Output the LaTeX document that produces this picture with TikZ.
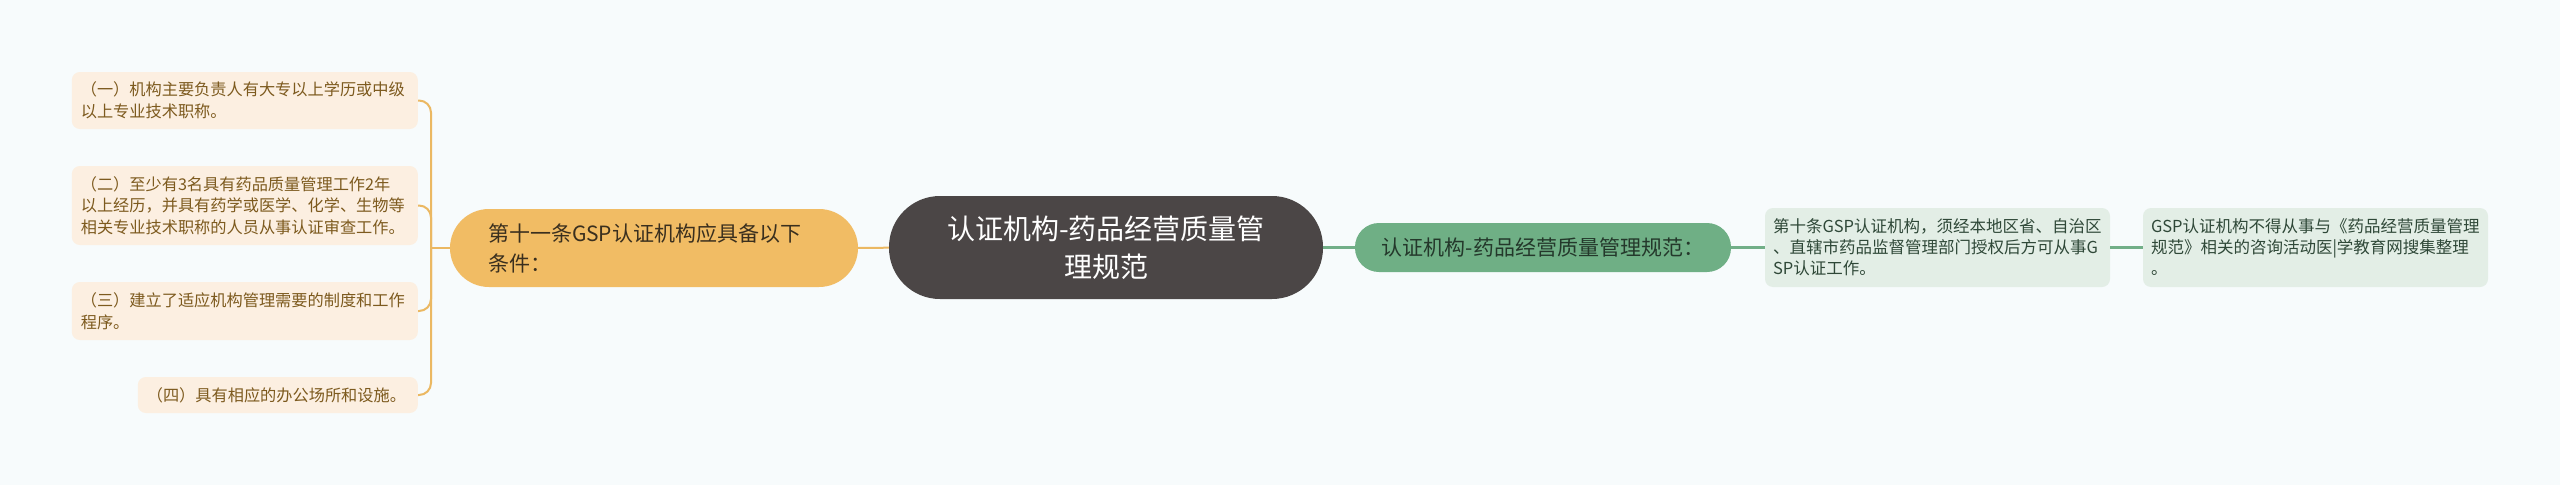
\documentclass[tikz,border=0pt]{standalone}
\usepackage{fontspec}
\setmainfont{Noto Sans CJK SC}
\definecolor{bgcol}{HTML}{F7FBFC}
\definecolor{rootfill}{HTML}{4B4646}
\definecolor{orangefill}{HTML}{F1BC64}
\definecolor{orangeline}{HTML}{EBB862}
\definecolor{peachfill}{HTML}{FCEFE1}
\definecolor{browntext}{HTML}{7D5A1E}
\definecolor{darktext}{HTML}{3A2F1E}
\definecolor{greenfill}{HTML}{6FAF85}
\definecolor{greenline}{HTML}{72AF88}
\definecolor{greentext}{HTML}{24382B}
\definecolor{mintfill}{HTML}{E3EEE6}
\definecolor{minttext}{HTML}{2F4838}
\begin{document}
\begin{tikzpicture}[x=1pt, y=-1pt,
  condleaf/.style={fill=peachfill, text=browntext, rounded corners=8pt, align=left, inner xsep=9pt, inner ysep=0pt, anchor=east, font=\fontsize{16.2}{21.5}\selectfont},
  specleaf/.style={fill=mintfill, text=minttext, rounded corners=8pt, align=left, inner xsep=8pt, inner ysep=0pt, text width=329pt, minimum height=79pt, font=\fontsize{16.5}{21}\selectfont},
  orangeedge/.style={draw=orangeline, line width=2pt},
  greenedge/.style={draw=greenline, line width=3pt}]
\useasboundingbox [fill=bgcol] (0,0) rectangle (2560,485);

\node (root) [fill=rootfill, text=white, rounded corners=51pt, align=center, minimum width=434pt, minimum height=103pt, font=\fontsize{28}{38}\selectfont] at (1106,247.5) {认证机构-药品经营质量管\\理规范};

\node (cond) [fill=orangefill, text=darktext, rounded corners=39pt, align=left, inner xsep=38pt, text width=332pt, minimum height=78pt, font=\fontsize{21}{30}\selectfont] at (654,248) {第十一条GSP认证机构应具备以下\\条件：};
\node (c1) [condleaf, text width=328pt, minimum height=57pt] at (418,100.5) {（一）机构主要负责人有大专以上学历或中级\\以上专业技术职称。};
\node (c2) [condleaf, text width=328pt, minimum height=79pt] at (418,205.5) {（二）至少有3名具有药品质量管理工作2年\\以上经历，并具有药学或医学、化学、生物等\\相关专业技术职称的人员从事认证审查工作。};
\node (c3) [condleaf, text width=328pt, minimum height=58pt] at (418,311) {（三）建立了适应机构管理需要的制度和工作\\程序。};
\node (c4) [condleaf, text width=262pt, minimum height=36pt] at (418,395) {（四）具有相应的办公场所和设施。};

\node (spec) [fill=greenfill, text=greentext, rounded corners=24pt, align=center, minimum width=376pt, minimum height=49pt, font=\fontsize{21}{28}\selectfont] at (1543,247.5) {认证机构-药品经营质量管理规范：};
\node (sp1) [specleaf] at (1937.5,247.5) {第十条GSP认证机构，须经本地区省、自治区\\、直辖市药品监督管理部门授权后方可从事G\\SP认证工作。};
\node (sp2) [specleaf] at (2315.5,247.5) {GSP认证机构不得从事与《药品经营质量管理\\规范》相关的咨询活动医|学教育网搜集整理\\。};

\coordinate (jn) at (431,248);

\draw [orangeedge] (root) -- (cond);
\draw [orangeedge] (cond) -- (jn);
\draw [orangeedge, rounded corners=12pt] (jn) |- (c1.east);
\draw [orangeedge, rounded corners=12pt] (jn) |- (c2.east);
\draw [orangeedge, rounded corners=12pt] (jn) |- (c3.east);
\draw [orangeedge, rounded corners=12pt] (jn) |- (c4.east);

\draw [greenedge] (root) -- (spec);
\draw [greenedge] (spec) -- (sp1);
\draw [greenedge] (sp1) -- (sp2);
\end{tikzpicture}
\end{document}
